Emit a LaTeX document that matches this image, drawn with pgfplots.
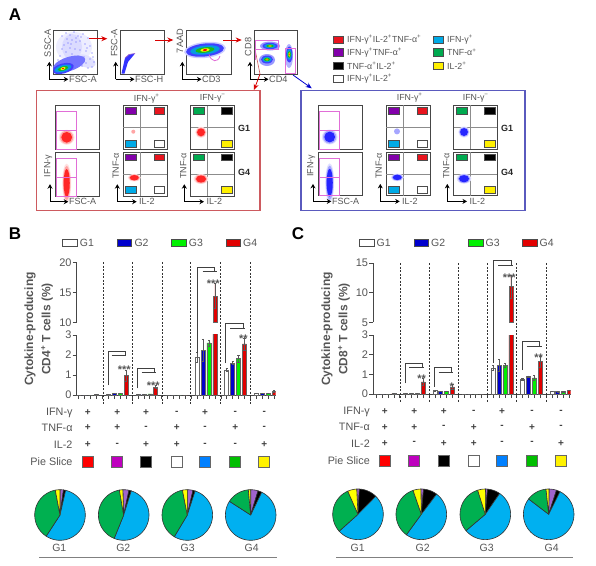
\documentclass[border=0pt]{standalone}
\usepackage{fontspec}
\setmainfont{Liberation Sans}
\usepackage{pgfplots}
\usepackage{pgfplotstable}
\pgfplotsset{compat=1.18}
\usetikzlibrary{arrows.meta}
\definecolor{tg}{RGB}{85,85,85}
\definecolor{ax}{RGB}{70,70,70}
\definecolor{aRed}{RGB}{232,20,30}
\definecolor{aPur}{RGB}{130,0,170}
\definecolor{aCya}{RGB}{0,170,230}
\definecolor{aGrn}{RGB}{0,170,80}
\definecolor{aYel}{RGB}{255,240,0}
\definecolor{sMag}{RGB}{190,0,190}
\definecolor{sBlu}{RGB}{0,128,255}
\definecolor{sGrn}{RGB}{0,190,0}
\definecolor{pPur}{RGB}{160,100,205}
\definecolor{pBlu}{RGB}{0,176,240}
\definecolor{pGrn}{RGB}{0,176,80}
\definecolor{pYel}{RGB}{255,255,0}
\definecolor{gBlu}{RGB}{0,0,205}
\definecolor{gGrn}{RGB}{0,240,0}
\definecolor{gRed}{RGB}{225,0,0}
\definecolor{gate}{RGB}{225,110,215}
\definecolor{boxR}{RGB}{205,90,95}
\definecolor{boxB}{RGB}{90,90,190}
\newcommand\fs[1]{\fontsize{#1}{#1}\selectfont}

% g, value and error of each group
\pgfplotstableread{
g g1 e1 g2 e2 g3 e3 g4 e4
0 0 0 0 0 0 0 0.03 0
1 0.03 0 0.08 0 0.10 0 0.97 0.28
2 0.05 0 0.04 0 0.06 0 0.40 0.08
3 0 0 0 0 0 0 0 0
4 1.90 0.25 2.25 0.55 2.60 0.15 14.4 2.1
5 1.25 0.08 1.60 0.08 1.83 0.17 2.55 0.30
6 0.09 0 0.09 0 0.09 0 0.20 0.04
}\tabB
\pgfplotstableread{
g g1 e1 g2 e2 g3 e3 g4 e4
0 0 0 0 0 0 0 0.03 0
1 0.03 0 0.05 0 0.04 0 0.62 0.18
2 0.18 0.02 0.14 0.01 0.15 0.01 0.36 0.14
3 0 0 0 0 0 0 0 0
4 1.33 0.12 1.45 0.30 1.47 0.10 11.0 2.0
5 0.75 0.05 0.88 0.05 0.82 0.13 1.65 0.28
6 0.14 0.01 0.12 0.01 0.12 0.01 0.20 0.01
}\tabC

\newcommand\bars[5]{% table, value col, error col, offset, colour
 \addplot[ybar,bar width=4pt,bar shift=0pt,fill=#5,draw=black!60,line width=.5pt,forget plot,
   error bars/.cd,y dir=both,y explicit,error bar style={draw=black!65,line width=.6pt},
   error mark options={rotate=90,mark size=1.1pt,draw=black!65}]
   table[x expr=\thisrow{g}*5+#4,y=#2,y error=#3]{#1};}
\newcommand\allbars[1]{%
 \bars{#1}{g1}{e1}{0}{white}\bars{#1}{g2}{e2}{1}{gBlu}\bars{#1}{g3}{e3}{2}{gGrn}\bars{#1}{g4}{e4}{3}{gRed}}
\pgfplotsset{chart/.style={scale only axis,axis y line*=left,axis line style={ax,line width=.6pt},
   tick style={ax,line width=.6pt},tick align=outside,major tick length=4pt,
   tick label style={font=\fs{11},text=tg},/pgf/number format/assume math mode=true,
   yticklabel style={inner sep=1pt},xticklabels={},enlargelimits=false}}

% pie slices, clockwise from the top, polygons through the overlay axis
\newcommand\pieslice[6]{%
 \pgfmathsetmacro\sweep{3.6*#5}%
 \pgfmathtruncatemacro\N{ceil(\sweep/6)+1}%
 \xdef\coords{(#1,#2)}%
 \foreach \i in {0,...,\N}{%
  \pgfmathsetmacro\aa{#4+\sweep*\i/\N}%
  \pgfmathsetmacro\px{#1+#3*sin(\aa)}%
  \pgfmathsetmacro\py{#2-#3*cos(\aa)}%
  \xdef\coords{\coords (\px,\py)}}%
 \edef\tmp{\noexpand\addplot[fill=#6,draw=black!80,line width=.6pt,mark=none,forget plot] coordinates {\coords (#1,#2)};}\tmp}
\newcommand\piechart[8]{% cx cy start purple black blue green yellow
 \def\st{#3}%
 \pieslice{#1}{#2}{25.3}{\st}{#4}{pPur}\pgfmathsetmacro\st{\st+3.6*#4}%
 \pieslice{#1}{#2}{25.3}{\st}{#5}{black}\pgfmathsetmacro\st{\st+3.6*#5}%
 \pieslice{#1}{#2}{25.3}{\st}{#6}{pBlu}\pgfmathsetmacro\st{\st+3.6*#6}%
 \pieslice{#1}{#2}{25.3}{\st}{#7}{pGrn}\pgfmathsetmacro\st{\st+3.6*#7}%
 \pieslice{#1}{#2}{25.3}{\st}{#8}{pYel}}

\newcommand\txt[5][]{\node[font=\fs{#2},text=tg,inner sep=0pt,#1] at (#3,#4) {#5};}
\newcommand\boxp[4]{\draw[ax,line width=.7pt,fill=white] (#1,#3) rectangle (#2,#4);}
\newcommand\sw[5]{\draw[black!70,line width=.7pt,fill=#5] (#1,#3) rectangle (#2,#4);}
% arrow axes beneath a dot plot: corner x, corner y, tip of the x arrow
\newcommand\arr[3]{\draw[black,line width=.8pt,-{Stealth[length=4.5pt,width=5pt]}] (#1,#2) -- (#1,#2-17.5);
 \draw[black,line width=.8pt,-{Stealth[length=4.5pt,width=5pt]}] (#1,#2) -- (#3,#2);}
\newcommand\el[6]{\fill[#6] (#1,#2) ellipse [x radius=#3pt,y radius=#4pt,rotate=#5];}
% rainbow blob
\newcommand\rain[5]{%
 \el{#1}{#2}{#3}{#4}{#5}{blue!75!white}
 \el{#1}{#2}{#3*.78}{#4*.68}{#5}{cyan!85!blue}
 \el{#1}{#2}{#3*.5}{#4*.42}{#5}{green!70!black!90}
 \el{#1}{#2}{#3*.24}{#4*.26}{#5}{yellow}
 \el{#1}{#2}{#3*.11}{#4*.15}{#5}{red}}
\newcommand\soft[5]{%
 \el{#1}{#2}{#3*1.3}{#4*1.25}{0}{#5!12}
 \el{#1}{#2}{#3*1.1}{#4*1.1}{0}{#5!35}
 \el{#1}{#2}{#3*.9}{#4*.9}{0}{#5!85}}

% the two boxes below panel A: same drawing, shifted for the second
\newcommand\inner[2]{%
 \foreach \t/\b in {105.7/149.3,152.3/196}{
  \boxp{55.7}{99.3}{\t}{\b}\boxp{123.3}{167}{\t}{\b}\boxp{190.7}{234.3}{\t}{\b}
  \draw[black!45,line width=.7pt] (140.7,\t) -- (140.7,\b) (123.3,\t+22) -- (167,\t+22)
     (207.7,\t) -- (207.7,\b) (190.7,\t+22) -- (234.3,\t+22);
  \sw{125.3}{136}{\t+2}{\t+8.5}{aPur}\sw{154}{164.7}{\t+2}{\t+8.5}{aRed}
  \sw{125.3}{136}{\t+34.5}{\t+41.5}{aCya}\sw{154}{164.7}{\t+34.5}{\t+41.5}{white}
  \sw{193.3}{204}{\t+2}{\t+8.5}{aGrn}\sw{221.3}{232}{\t+2}{\t+8.5}{black}
  \sw{221.3}{232}{\t+34.5}{\t+41.5}{aYel}
 }
 \soft{66.7}{137.3}{6}{6}{#2}
 \soft{66.7}{183}{3.4}{15.5}{#2}
 \foreach \t/\b in {111.7/149.3,158.3/196}{
  \draw[gate,line width=.8pt] (56.7,\t) rectangle (76.7,\b) (56.7,\t+19) -- (76.7,\t+19);}
 #1
 \soft{201}{132.3}{4.4}{4.4}{#2}
 \soft{201}{179}{5.6}{4}{#2}
 \soft{134.3}{177.7}{5}{3}{#2}
 \txt{8.8}{146.7}{98.3}{IFN-γ\textsuperscript{+}}
 \txt{8.8}{212.7}{98.3}{IFN-γ\textsuperscript{−}}
 \node[font=\fs{9}\bfseries,text=black!85,inner sep=0pt] at (244,128.3) {G1};
 \node[font=\fs{9}\bfseries,text=black!85,inner sep=0pt] at (244,172.7) {G4};
 \txt[rotate=90]{9}{48.3}{166}{IFN-γ}
 \txt[rotate=90]{9}{115.7}{166}{TNF-α}
 \txt[rotate=90]{9}{183.3}{166}{TNF-α}
 \arr{50}{201.7}{68.3}\arr{117.3}{201.7}{136.7}\arr{184.3}{201.7}{204}
 \txt[anchor=west]{9}{69}{201.7}{FSC-A}
 \txt[anchor=west]{9}{139}{201.7}{IL-2}
 \txt[anchor=west]{9}{206.5}{201.7}{IL-2}}

\begin{document}
\begin{tikzpicture}
\path (0,0) rectangle (596pt,565pt);

% ---- panel B
\begin{axis}[chart,at={(76.7pt,170pt)},anchor=south west,width=198.8pt,height=60pt,
  xmin=-0.34,xmax=33.24,ymin=0,ymax=3,ytick={0,1,2,3},xtick={0,...,33},axis x line*=bottom]
\allbars{\tabB}
\end{axis}
\begin{axis}[chart,at={(76.7pt,242.7pt)},anchor=south west,width=198.8pt,height=60pt,
  restrict y to domain=8:30,
  xmin=-0.34,xmax=33.24,ymin=10,ymax=20,ytick={10,15,20},xtick=\empty,axis x line=none]
\bars{\tabB}{g4}{e4}{3}{gRed}
\end{axis}
% ---- panel C
\begin{axis}[chart,at={(373.3pt,171pt)},anchor=south west,width=197.2pt,height=59pt,
  xmin=-0.53,xmax=33.2,ymin=0,ymax=3,ytick={0,1,2,3},xtick={0,...,33},axis x line*=bottom]
\allbars{\tabC}
\end{axis}
\begin{axis}[chart,at={(373.3pt,242.7pt)},anchor=south west,width=197.2pt,height=59.3pt,
  restrict y to domain=4:30,
  xmin=-0.53,xmax=33.2,ymin=5,ymax=15,ytick={5,10,15},xtick=\empty,axis x line=none]
\bars{\tabC}{g4}{e4}{3}{gRed}
\end{axis}

% ---- overlay in reference pixels
\begin{axis}[at={(0pt,0pt)},anchor=south west,scale only axis,width=596pt,height=565pt,
  xmin=0,xmax=596,ymin=0,ymax=565,y dir=reverse,axis lines=none,clip=false]
\pgfplotsextra{%
% panel letters
\node[font=\fs{17}\bfseries,inner sep=0pt] at (15,15) {A};
\node[font=\fs{17}\bfseries,inner sep=0pt] at (15,234) {B};
\node[font=\fs{17}\bfseries,inner sep=0pt] at (298,234) {C};
% -- top row of dot plots
\boxp{53.3}{97.3}{30}{74}\boxp{120}{164.3}{30}{74}\boxp{186.7}{231}{30}{74}\boxp{254}{297.7}{30}{74}
\begin{scope}
\clip (53.3,30) rectangle (97.3,74);
\el{74}{47}{18}{15}{0}{blue!7}
\el{72}{47}{10}{13}{0}{blue!14}
\el{85}{61}{11}{6}{-20}{blue!12}
\el{69}{64}{17}{7}{18}{blue!55}
\rain{63}{68.5}{11}{5}{15}
\end{scope}
\fill[blue!80!white] (121.5,73.5) -- (125,58) -- (129,54.5) -- (135,53.5) -- (128,62) -- (124.5,73.5) -- cycle;
\draw[pPur,line width=.7pt] (125,58) -- (129,54.5) -- (135,53.5);
\el{205}{50}{21}{8}{6}{blue!20}
\rain{205}{50}{19}{6.5}{6}
\draw[gate,line width=.8pt] (209,54.5) .. controls (211,62) and (218,63) .. (220,56);
\el{267}{60}{8}{6}{0}{blue!40}
\rain{267}{59.5}{6}{4}{0}
\el{270}{46}{10}{4.5}{0}{blue!40}
\rain{270}{46}{7.5}{3.2}{0}
\el{289}{56}{4}{12}{0}{blue!30}
\rain{289.3}{54.5}{3.2}{8}{0}
\draw[gate,line width=.8pt] (255,40.7) rectangle (278.3,49.3) (285,48) rectangle (295,73);
\draw[boxR,line width=.6pt] (255,49.3) -- (260,74);
\draw[gate,line width=.6pt] (255,41) -- (255,60);
\txt[rotate=90]{9.2}{47.7}{43}{SSC-A}
\txt[rotate=90]{9.2}{114.3}{43}{FSC-A}
\txt[rotate=90]{9.2}{180}{41}{7AAD}
\txt[rotate=90]{9.2}{248.3}{47}{CD8}
\arr{49.3}{79.3}{68.3}\arr{115.7}{79.3}{134.5}\arr{182.3}{79.3}{201.5}\arr{250}{79.3}{268.5}
\txt[anchor=west]{9.2}{69}{79.3}{FSC-A}
\txt[anchor=west]{9.2}{135}{79.3}{FSC-H}
\txt[anchor=west]{9.2}{202}{79.3}{CD3}
\txt[anchor=west]{9.2}{269}{79.3}{CD4}
\foreach \a/\b/\y in {89.3/107.3/38.7,155/173.3/40,223.3/241.7/40}{
 \draw[red!85!black,line width=.8pt,-{Stealth[length=6pt,width=5pt]}] (\a,\y) -- (\b,\y);}
\draw[red!85!black,line width=.8pt,-{Stealth[length=6pt,width=5pt]}] (260,74) -- (254,90);
\draw[blue!80!black,line width=.8pt,-{Stealth[length=6pt,width=5pt]}] (293,75) -- (311.7,88.3);
% -- key of panel A
\foreach \x/\y/\c/\l in {
 333.3/39.7/aRed/{IFN-γ\textsuperscript{+}IL-2\textsuperscript{+}TNF-α\textsuperscript{+}},
 333.3/52.3/aPur/{IFN-γ\textsuperscript{+}TNF-α\textsuperscript{+}},
 333.3/65.7/black/{TNF-α\textsuperscript{+}IL-2\textsuperscript{+}},
 333.3/78.7/white/{IFN-γ\textsuperscript{+}IL-2\textsuperscript{+}},
 433.3/39.7/aCya/{IFN-γ\textsuperscript{+}},
 433.3/52.3/aGrn/{TNF-α\textsuperscript{+}},
 433.3/65.7/aYel/{IL-2\textsuperscript{+}}}{
 \draw[black!70,line width=.6pt,fill=\c] (\x,\y-3.6) rectangle (\x+10,\y+3.6);
 \txt[anchor=west]{8.8}{\x+13.7}{\y}{\l}
}
% -- boxes
\draw[boxR,line width=1.1pt] (36.7,90.7) rectangle (260,210.7);
\draw[boxB,line width=1.1pt] (301,90.7) rectangle (525,210.7);
\inner{\el{133.3}{131.7}{2}{2}{0}{red!35}}{red}
\begin{scope}[shift={(263pt,0.3pt)}]
\inner{\el{134}{131.7}{3}{3}{0}{blue!35}}{blue}
\end{scope}
% -- legends of B and C
\foreach \x/\c/\l in {62.7/white/G1,117.3/gBlu/G2,171.7/gGrn/G3,226/gRed/G4}{
 \draw[black!70,line width=.7pt,fill=\c] (\x,239) rectangle (\x+14.5,246);
 \txt[anchor=west]{10.5}{\x+17}{242.5}{\l}}
\foreach \x/\c/\l in {359.5/white/G1,414/gBlu/G2,468.5/gGrn/G3,522.5/gRed/G4}{
 \draw[black!70,line width=.7pt,fill=\c] (\x,239) rectangle (\x+14.5,246);
 \txt[anchor=west]{10.5}{\x+17}{242.5}{\l}}
% -- y titles
\node[font=\fs{12}\bfseries,text=tg,rotate=90,inner sep=0pt,align=center] at (30,329) {Cytokine-producing};
\node[font=\fs{12}\bfseries,text=tg,rotate=90,inner sep=0pt] at (47,329) {CD4\textsuperscript{+} T cells (\%)};
\node[font=\fs{12}\bfseries,text=tg,rotate=90,inner sep=0pt] at (327,329) {Cytokine-producing};
\node[font=\fs{12}\bfseries,text=tg,rotate=90,inner sep=0pt] at (344,329) {CD8\textsuperscript{+} T cells (\%)};
% -- group separators
\foreach \x in {103,132.3,162,190.7,220.3,250.7}{
 \draw[black!80,line width=.6pt,dash pattern=on 2pt off 1.5pt] (\x,262) -- (\x,405);}
\foreach \x in {400,429.3,458.7,487.7,516.7,546.7}{
 \draw[black!80,line width=.6pt,dash pattern=on 2pt off 1.5pt] (\x,263) -- (\x,403);}
% -- brackets: outer x, top y, bottom y, right x, inner-left x, inner-right x, inner y
\foreach \a/\t/\b/\c/\d/\e/\f in {
 108.3/351/385/125.7/111.7/126/355,
 137.3/368.3/388.3/154/141.7/155.7/372.7,
 197.7/267/353/214.3/202.7/216.7/271,
 225.7/323.7/363/243.3/230/245/328.3,
 405/363.3/383.3/422.7/409.3/424.3/367.7,
 434.3/367.3/386.7/451/438.7/453.3/372.7,
 493.3/260.7/363/511/498.3/512.7/265,
 522.7/341/370/539.3/526.7/542/346.7}{
 \draw[black!75,line width=.7pt] (\a,\b) -- (\a,\t) -- (\c,\t) -- (\c,\f);
 \draw[black!75,line width=.7pt] (\d,\f) -- (\e,\f);}
\foreach \x/\y/\s in {124.3/369.5/***,153.3/385.5/***,213.3/283.5/***,243.3/338.5/**,
   421.7/378.5/**,451.7/386.5/*,509.3/277.5/***,538.7/357.5/**}{
 \node[font=\fs{11}\bfseries,text=tg,inner sep=0pt] at (\x,\y) {\s};}
% -- sign rows
\foreach \y/\l in {412.7/IFN-γ,427.7/TNF-α,445/IL-2,462/Pie Slice}{
 \txt[anchor=east]{10.8}{72.7}{\y}{\l}}
\foreach \y/\l in {411.7/IFN-γ,427.3/TNF-α,443.3/IL-2,460.7/Pie Slice}{
 \txt[anchor=east]{10.8}{370}{\y}{\l}}
\foreach \x/\a/\b/\c/\col in {87.7/+/+/+/red,117.3/+/+/-/sMag,146/+/-/+/black,176.7/-/+/+/white,
   205/+/-/-/sBlu,235.3/-/+/-/sGrn,264.3/-/-/+/yellow}{
 \node[font=\fs{10}\bfseries,text=black!75,inner sep=0pt] at (\x,412.7) {\a};
 \node[font=\fs{10}\bfseries,text=black!75,inner sep=0pt] at (\x,427.7) {\b};
 \node[font=\fs{10}\bfseries,text=black!75,inner sep=0pt] at (\x,445) {\c};
 \draw[black!60,line width=.8pt,fill=\col] (\x-5.5,456.5) rectangle (\x+5.5,467.5);}
\foreach \x/\a/\b/\c/\col in {384.7/+/+/+/red,414.3/+/+/-/sMag,443.7/+/-/+/black,473.7/-/+/+/white,
   502/+/-/-/sBlu,532/-/+/-/sGrn,561/-/-/+/yellow}{
 \node[font=\fs{10}\bfseries,text=black!75,inner sep=0pt] at (\x,411.7) {\a};
 \node[font=\fs{10}\bfseries,text=black!75,inner sep=0pt] at (\x,427.3) {\b};
 \node[font=\fs{10}\bfseries,text=black!75,inner sep=0pt] at (\x,443.3) {\c};
 \draw[black!60,line width=.8pt,fill=\col] (\x-5.5,455) rectangle (\x+5.5,466);}
\foreach \x/\l in {59.3/G1,123.3/G2,187.7/G3,251.7/G4,357.7/G1,422.7/G2,486.7/G3,551.7/G4}{
 \txt{10.5}{\x}{548.3}{\l}}
\draw[black!50,line width=1.5pt] (39,557.7) -- (276.7,557.7);
\draw[black!50,line width=1.5pt] (336,557.7) -- (573.3,557.7);
}
% -- sparse events of the first dot plot
\addplot[only marks,mark=*,mark size=.35pt,blue!55,forget plot] coordinates {
(62,36)(66,33)(70,35)(74,32)(78,36)(83,34)(88,38)(72,40)(76,42)(80,41)(68,43)(64,45)(85,44)(90,46)
(70,48)(75,49)(80,50)(86,51)(92,53)(66,52)(72,54)(78,56)(84,57)(90,59)(94,62)(60,56)(62,49)(58,60)
(74,60)(80,61)(86,63)(92,67)(88,68)(82,66)(76,38)(67,39)(81,37)(87,48)(93,57)(71,44)};
% -- pies
\piechart{60}{515}{0}{2.2}{1.4}{55.6}{37.8}{3.0}
\piechart{123.7}{515}{-2}{3.9}{1.5}{51.3}{41.1}{2.2}
\piechart{187.3}{515}{0}{3.6}{1.4}{53.6}{38.3}{3.1}
\piechart{250.7}{515}{0}{4.7}{2.5}{76.9}{14.4}{1.4}
\piechart{358}{514.3}{-3}{1.7}{11.5}{51.0}{30.0}{5.8}
\piechart{421.3}{514.3}{-1}{1.7}{8.9}{49.7}{34.7}{5.0}
\piechart{485.3}{514.3}{0}{1.4}{8.2}{54.2}{31.3}{5.0}
\piechart{548.7}{514.3}{1}{4.7}{2.4}{78.0}{12.9}{1.9}
\end{axis}
\end{tikzpicture}
\end{document}
